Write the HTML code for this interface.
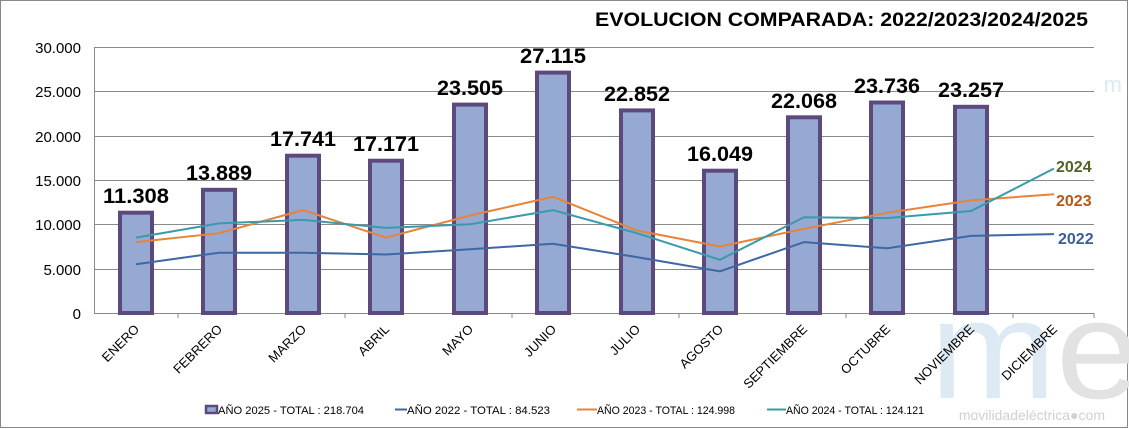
<!DOCTYPE html>
<html><head><meta charset="utf-8"><style>
body{margin:0;background:#fff}
svg{display:block;font-family:"Liberation Sans",sans-serif}
</style></head><body>
<svg width="1129" height="429" viewBox="0 0 1129 429">
<rect x="0.5" y="0.5" width="1127" height="427" fill="#fff" stroke="#888" stroke-width="1"/>
<text x="1122" y="92" font-size="22" fill="#dde9f3" text-anchor="end">m</text>
<text x="1140" y="398" font-size="140" fill="#dde9f3" text-anchor="end" textLength="210" lengthAdjust="spacingAndGlyphs">m<tspan fill="#e2e2e2">e</tspan></text>
<text x="1105" y="420" font-size="14" fill="#d0d0d0" text-anchor="end">movilidadeléctrica●com</text>
<text x="1088" y="26" font-size="19" font-weight="bold" text-anchor="end" fill="#000" textLength="493" lengthAdjust="spacingAndGlyphs">EVOLUCION COMPARADA: 2022/2023/2024/2025</text>
<g stroke="#8a8a8a" stroke-width="1">
<line x1="94" y1="47.5" x2="1094" y2="47.5"/>
<line x1="94" y1="91.5" x2="1094" y2="91.5"/>
<line x1="94" y1="136.5" x2="1094" y2="136.5"/>
<line x1="94" y1="180.5" x2="1094" y2="180.5"/>
<line x1="94" y1="224.5" x2="1094" y2="224.5"/>
<line x1="94" y1="269.5" x2="1094" y2="269.5"/>
<line x1="94" y1="313.5" x2="1094" y2="313.5"/>
<line x1="94.5" y1="47" x2="94.5" y2="313"/>
<line x1="178" y1="313" x2="178" y2="318"/><line x1="345" y1="313" x2="345" y2="318"/><line x1="512" y1="313" x2="512" y2="318"/><line x1="679" y1="313" x2="679" y2="318"/><line x1="846" y1="313" x2="846" y2="318"/><line x1="1013" y1="313" x2="1013" y2="318"/><line x1="1094" y1="313" x2="1094" y2="318"/>
</g>
<g font-size="15" text-anchor="end" fill="#000">
<text x="81" y="53">30.000</text><text x="81" y="97">25.000</text><text x="81" y="142">20.000</text><text x="81" y="186">15.000</text><text x="81" y="230">10.000</text><text x="81" y="275">5.000</text><text x="81" y="319">0</text>
</g>
<g fill="#95a9d2" stroke="#5c4a7d" stroke-width="4">
<rect x="120" y="212.7" width="32" height="100.3"/>
<rect x="203" y="189.8" width="32" height="123.2"/>
<rect x="287" y="155.7" width="32" height="157.3"/>
<rect x="370" y="160.7" width="32" height="152.3"/>
<rect x="454" y="104.6" width="32" height="208.4"/>
<rect x="537" y="72.6" width="32" height="240.4"/>
<rect x="621" y="110.4" width="32" height="202.6"/>
<rect x="704" y="170.7" width="32" height="142.3"/>
<rect x="788" y="117.3" width="32" height="195.7"/>
<rect x="871" y="102.5" width="32" height="210.5"/>
<rect x="955" y="106.8" width="32" height="206.2"/>
</g>
<g font-size="21" font-weight="bold" text-anchor="middle" fill="#000">
<text x="136" y="203" textLength="66" lengthAdjust="spacingAndGlyphs">11.308</text><text x="219" y="180" textLength="66" lengthAdjust="spacingAndGlyphs">13.889</text><text x="303" y="146" textLength="66" lengthAdjust="spacingAndGlyphs">17.741</text><text x="386" y="151" textLength="66" lengthAdjust="spacingAndGlyphs">17.171</text><text x="470" y="95" textLength="66" lengthAdjust="spacingAndGlyphs">23.505</text><text x="553" y="63" textLength="66" lengthAdjust="spacingAndGlyphs">27.115</text><text x="637" y="101" textLength="66" lengthAdjust="spacingAndGlyphs">22.852</text><text x="720" y="161" textLength="66" lengthAdjust="spacingAndGlyphs">16.049</text><text x="804" y="108" textLength="66" lengthAdjust="spacingAndGlyphs">22.068</text><text x="887" y="93" textLength="66" lengthAdjust="spacingAndGlyphs">23.736</text><text x="971" y="97" textLength="66" lengthAdjust="spacingAndGlyphs">23.257</text>
</g>
<g fill="none" stroke-width="2">
<polyline stroke="#3f67a3" points="136,264.2 219,252.7 303,252.7 386,254.5 470,249.2 553,243.8 637,257.1 720,271.3 804,242.1 887,248.3 971,235.9 1054,234.1"/>
<polyline stroke="#e8833a" points="136,242.1 219,233.2 303,210.1 386,237.6 470,215.5 553,196.8 637,230.5 720,246.5 804,228.8 887,212.8 971,200.4 1054,194.2"/>
<polyline stroke="#3a9aac" points="136,237.6 219,223.4 303,219.9 386,227.9 470,224.3 553,210.1 637,233.2 720,259.8 804,217.2 887,218.1 971,211.0 1054,168.5"/>
</g>
<g font-size="16" font-weight="bold">
<text x="1056" y="172" fill="#4f6228">2024</text>
<text x="1056" y="206" fill="#b35a1a">2023</text>
<text x="1058" y="244" fill="#3b5f95">2022</text>
</g>
<g font-size="13" text-anchor="end" fill="#000">
<text transform="translate(140,330) rotate(-45)">ENERO</text>
<text transform="translate(223,330) rotate(-45)">FEBRERO</text>
<text transform="translate(307,330) rotate(-45)">MARZO</text>
<text transform="translate(390,330) rotate(-45)">ABRIL</text>
<text transform="translate(474,330) rotate(-45)">MAYO</text>
<text transform="translate(557,330) rotate(-45)">JUNIO</text>
<text transform="translate(641,330) rotate(-45)">JULIO</text>
<text transform="translate(724,330) rotate(-45)">AGOSTO</text>
<text transform="translate(808,330) rotate(-45)">SEPTIEMBRE</text>
<text transform="translate(891,330) rotate(-45)">OCTUBRE</text>
<text transform="translate(975,330) rotate(-45)">NOVIEMBRE</text>
<text transform="translate(1058,330) rotate(-45)">DICIEMBRE</text>
</g>
<g font-size="11" fill="#000">
<rect x="206" y="406" width="11" height="7" fill="#95a9d2" stroke="#5c4a7d" stroke-width="2.5"/>
<text x="218" y="414" textLength="146" lengthAdjust="spacingAndGlyphs">AÑO 2025 - TOTAL : 218.704</text>
<line x1="395" y1="409.5" x2="407" y2="409.5" stroke="#3f67a3" stroke-width="2"/>
<text x="407" y="414" textLength="143" lengthAdjust="spacingAndGlyphs">AÑO 2022 - TOTAL : 84.523</text>
<line x1="577" y1="409.5" x2="597" y2="409.5" stroke="#e8833a" stroke-width="2"/>
<text x="597" y="414" textLength="138" lengthAdjust="spacingAndGlyphs">AÑO 2023 - TOTAL : 124.998</text>
<line x1="767" y1="409.5" x2="786" y2="409.5" stroke="#3a9aac" stroke-width="2"/>
<text x="786" y="414" textLength="138" lengthAdjust="spacingAndGlyphs">AÑO 2024 - TOTAL : 124.121</text>
</g>
</svg>
</body></html>
